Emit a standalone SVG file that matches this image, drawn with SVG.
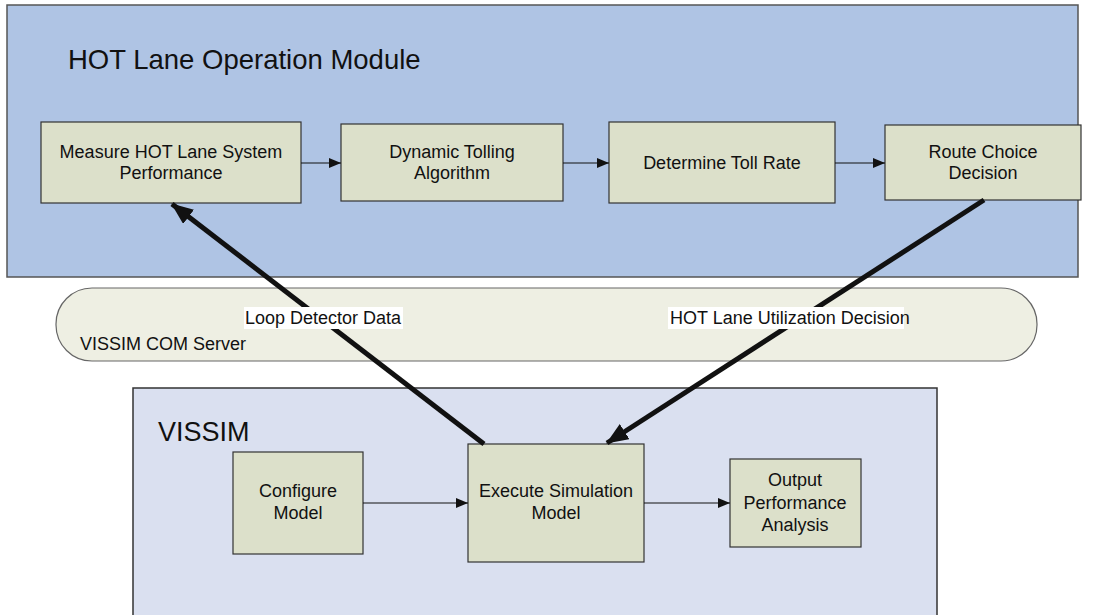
<svg xmlns="http://www.w3.org/2000/svg" width="1094" height="615" viewBox="0 0 1094 615">
<defs>
<style>
text{font-family:"Liberation Sans",Arial,sans-serif;fill:#111;}
.box{fill:#DCE0CA;stroke:#333;stroke-width:1.2;}
.lbl{font-size:18px;text-anchor:middle;}
.thin{stroke:#111;stroke-width:1.2;fill:none;}
.thick{stroke:#111;stroke-width:5;fill:none;}
.bg{fill:#fff;}
</style>
<marker id="ah" viewBox="0 0 12 10" refX="12" refY="5" markerWidth="12" markerHeight="10" markerUnits="userSpaceOnUse" orient="auto">
<path d="M0,0 L12,5 L0,10 Z" fill="#111"/>
</marker>
<marker id="ahb" viewBox="0 0 22 18" refX="21" refY="9" markerWidth="22" markerHeight="18" markerUnits="userSpaceOnUse" orient="auto">
<path d="M0,0 L22,9 L0,18 Z" fill="#111"/>
</marker>
</defs>
<rect width="1094" height="615" fill="#fff"/>
<g id="hot-module">
<rect x="7" y="5" width="1071" height="272" fill="#AFC4E4" stroke="#555" stroke-width="1.5"/>
<text x="68" y="69" style="font-size:27.5px">HOT Lane Operation Module</text>
</g>
<g id="com-server">
<rect x="56" y="288" width="981" height="73" rx="36" ry="36" fill="#EEEFE3" stroke="#666" stroke-width="1.2"/>
<text x="80" y="350" style="font-size:18px">VISSIM COM Server</text>
</g>
<g id="vissim">
<rect x="133" y="388" width="804" height="240" fill="#DAE0F0" stroke="#333" stroke-width="1.5"/>
<text x="158" y="441" style="font-size:27px">VISSIM</text>
</g>
<g id="measure">
<rect class="box" x="41" y="122" width="260" height="81"/>
<text class="lbl" x="171" y="158">Measure HOT Lane System</text>
<text class="lbl" x="171" y="179">Performance</text>
</g>
<g id="dynamic">
<rect class="box" x="341" y="124" width="222" height="77"/>
<text class="lbl" x="452" y="158">Dynamic Tolling</text>
<text class="lbl" x="452" y="179">Algorithm</text>
</g>
<g id="toll">
<rect class="box" x="609" y="122" width="226" height="81"/>
<text class="lbl" x="722" y="169">Determine Toll Rate</text>
</g>
<g id="route">
<rect class="box" x="885" y="125" width="196" height="75"/>
<text class="lbl" x="983" y="158">Route Choice</text>
<text class="lbl" x="983" y="179">Decision</text>
</g>
<g id="configure">
<rect class="box" x="233" y="452" width="130" height="102"/>
<text class="lbl" x="298" y="497">Configure</text>
<text class="lbl" x="298" y="519">Model</text>
</g>
<g id="execute">
<rect class="box" x="468" y="444" width="176" height="118"/>
<text class="lbl" x="556" y="497">Execute Simulation</text>
<text class="lbl" x="556" y="519">Model</text>
</g>
<g id="output">
<rect class="box" x="730" y="459" width="131" height="88"/>
<text class="lbl" x="795" y="486">Output</text>
<text class="lbl" x="795" y="509">Performance</text>
<text class="lbl" x="795" y="531">Analysis</text>
</g>
<g id="connectors">
<line class="thin" x1="301" y1="163" x2="341" y2="163" marker-end="url(#ah)"/>
<line class="thin" x1="563" y1="163" x2="609" y2="163" marker-end="url(#ah)"/>
<line class="thin" x1="835" y1="163" x2="885" y2="163" marker-end="url(#ah)"/>
<line class="thin" x1="363" y1="503" x2="468" y2="503" marker-end="url(#ah)"/>
<line class="thin" x1="644" y1="503" x2="730" y2="503" marker-end="url(#ah)"/>
<line class="thick" x1="484" y1="444" x2="172" y2="204" marker-end="url(#ahb)"/>
<line class="thick" x1="984" y1="200" x2="607" y2="443" marker-end="url(#ahb)"/>
<rect class="bg" x="244" y="307" width="159" height="22"/>
<text x="245" y="324" style="font-size:18px">Loop Detector Data</text>
<rect class="bg" x="668" y="307" width="236" height="22"/>
<text x="670" y="324" style="font-size:18px">HOT Lane Utilization Decision</text>
</g>
</svg>
